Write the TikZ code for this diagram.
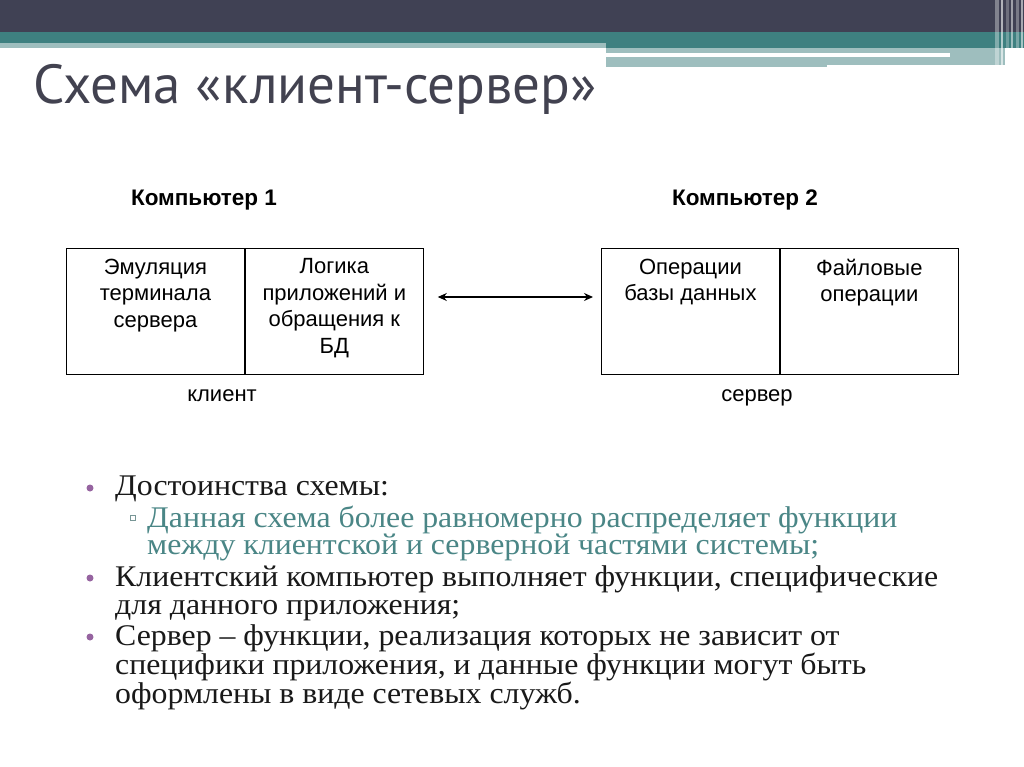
\documentclass[tikz,border=0pt]{standalone}
\usepackage{fontspec}
\setmainfont{Liberation Serif}
\newfontfamily\arialfont{Liberation Sans}
\newfontfamily\titlefont{PT Sans}
\newfontfamily\listserif{Liberation Serif}[FakeStretch=1.06, Ligatures=TeX]
\usetikzlibrary{arrows.meta}
\usetikzlibrary{positioning}

\definecolor{headdark}{RGB}{64,65,84}
\definecolor{headteal}{RGB}{62,128,128}
\definecolor{headlight}{RGB}{158,190,190}
\definecolor{titlegrey}{RGB}{66,66,80}
\definecolor{dotpurple}{RGB}{150,100,160}
\definecolor{subteal}{RGB}{74,134,134}
\definecolor{squaregrey}{RGB}{120,150,150}

\newcommand{\cellfont}{\arialfont\fontsize{22}{26.5}\selectfont}
\newcommand{\listfont}{\listserif\fontsize{30}{27.5}\selectfont}

\begin{document}
\begin{tikzpicture}[x=1pt, y=-1pt,
    cell/.style={rectangle, anchor=north west, inner sep=0pt,
        minimum width=178pt, minimum height=126pt,
        draw=black, line width=0.9pt},
    celltext/.style={anchor=north, inner sep=0pt, align=center,
        font=\cellfont, execute at begin node=\strut},
    heading/.style={anchor=base, inner sep=0pt,
        font=\arialfont\bfseries\fontsize{22.5}{26}\selectfont},
    rolelabel/.style={anchor=base, inner sep=0pt, font=\cellfont},
    link/.style={{Stealth[length=9pt,width=8pt]}-{Stealth[length=9pt,width=8pt]}, line width=1.3pt},
    listline/.style={anchor=north west, inner sep=0pt, align=left,
        font=\listfont, execute at begin node=\strut, text=black!90},
    dot/.style={circle, fill=dotpurple, inner sep=0pt, minimum size=7pt},
    subsquare/.style={rectangle, draw=squaregrey, line width=0.8pt,
        inner sep=0pt, minimum size=5.5pt},
]
    \useasboundingbox (0,0) rectangle (1024,767);
    \fill[white] (0,0) rectangle (1024,767);

    % header bands
    \fill[headdark] (0,0) rectangle (1024,32);
    \fill[headteal] (0,32) rectangle (1024,43);
    \fill[headlight] (0,43) rectangle (606,48);
    \fill[headteal] (606,43) rectangle (1024,48);
    \fill[headlight] (606,48) rectangle (1005,65);
    \fill[headlight] (606,65) rectangle (827,67);
    \fill[white] (606,53) rectangle (950,57);
    \foreach \x/\w/\o in {995/4/0.35, 1001/2/0.6, 1006/3/0.25, 1011/2/0.5, 1016/3/0.3, 1021/2/0.55}
        \fill[white, opacity=\o] (\x,0) rectangle (\x+\w,67);

    \node (title) at (33,104) [anchor=base west, inner sep=0pt,
        text=titlegrey, font=\titlefont\fontsize{55}{60}\selectfont,
    ] {Схема «клиент-сервер»};

    % computer 1
    \node (comp1) at (204,206) [heading] {Компьютер 1};
    \node (emul) at (66,248) [cell] {};
    \node (logic) at (emul.north east) [cell] {};
    \node (emultext) at ([yshift=-10.5pt]emul.north) [celltext]
        {Эмуляция\\терминала\\сервера};
    \node (logictext) at ([yshift=-10.5pt]logic.north) [celltext]
        {Логика\\приложений и\\обращения к\\БД};
    \node (client) at (222,401) [rolelabel] {клиент};

    % computer 2
    \node (comp2) at (745,206) [heading] {Компьютер 2};
    \node (dbops) at (601,248) [cell] {};
    \node (fileops) at (dbops.north east) [cell] {};
    \node (dbopstext) at ([yshift=-10.5pt]dbops.north) [celltext]
        {Операции\\базы данных};
    \node (fileopstext) at ([yshift=-10.5pt]fileops.north) [celltext]
        {Файловые\\операции};
    \node (server) at (757,401) [rolelabel] {сервер};

    \draw[link] ([shift={(14pt,-49pt)}]logic.north east)
        -- ([shift={(-8pt,-49pt)}]dbops.north west);

    % list
    \node (merit) at (115,475.75) [listline] {Достоинства схемы:};
    \node (meritsub) at (147,505.75) [listline, text=subteal]
        {Данная схема более равномерно распределяет функции\\между клиентской и серверной частями системы;};
    \node (clientitem) at (115,565.75) [listline]
        {Клиентский компьютер выполняет функции, специфические\\для данного приложения;};
    \node (serveritem) at (115,624.75) [listline]
        {Сервер – функции, реализация которых не зависит от\\специфики приложения, и данные функции могут быть\\оформлены в виде сетевых служб.};
    \node (dot1) at (90,488) [dot] {};
    \node (square1) at (133,518) [subsquare] {};
    \node (dot2) at (90,578) [dot] {};
    \node (dot3) at (90,637) [dot] {};
\end{tikzpicture}
\end{document}
